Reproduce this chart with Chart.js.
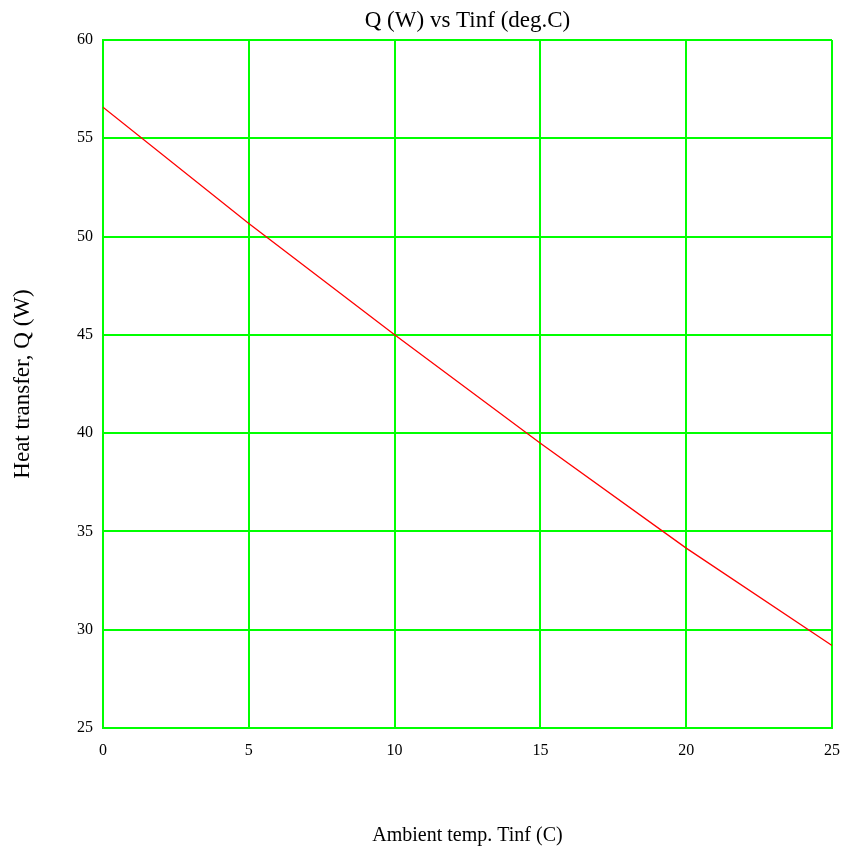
<!DOCTYPE html>
<html>
<head>
<meta charset="utf-8">
<script src="https://cdn.jsdelivr.net/npm/chart.js@4"></script>
<style>
    body { margin: 0; background: #ffffff; }
    #wrap { width: 847px; height: 850px; }
</style>
</head>
<body>
<div id="wrap"><canvas id="chart"></canvas></div>
<script>
// values
const tinf_values = [0, 5, 10, 15, 20, 25]
const heat_values = [56.58, 50.67, 45.0, 39.49, 34.15, 29.2]

const chart_title = 'Q (W) vs Tinf (deg.C)'
const x_title = 'Ambient temp. Tinf (C)'
const y_title = 'Heat transfer, Q (W)'

const serif = '"Liberation Serif", "Times New Roman", serif'
const green = '#00ff00'

let points = []
for (let i = 0; i < tinf_values.length; i ++) {
    points.push({x: tinf_values[i], y: heat_values[i]})
}

// title centred over the plot area, not over the whole canvas
const plot_title = {
    id: 'plot_title',
    afterDraw(chart) {
        const ctx = chart.ctx
        const area = chart.chartArea
        ctx.save()
        ctx.fillStyle = '#000000'
        ctx.font = '23px ' + serif
        ctx.textAlign = 'center'
        ctx.textBaseline = 'alphabetic'
        ctx.fillText(chart_title, (area.left + area.right) / 2, 27)
        ctx.restore()
    }
}

const graph = new Chart(document.getElementById('chart'), {
    type: 'line',
    data: {
        datasets: [{
            data: points,
            borderColor: '#ff0000',
            borderWidth: 1.3,
            pointRadius: 0,
            tension: 0,
            fill: false
        }]
    },
    options: {
        responsive: true,
        maintainAspectRatio: false,
        animation: false,
        layout: { padding: { top: 40, left: 0, right: 15, bottom: 0 } },
        plugins: {
            legend: { display: false },
            tooltip: { enabled: false },
            title: { display: false }
        },
        scales: {
            x: {
                type: 'linear',
                min: 0,
                max: 25,
                ticks: {
                    stepSize: 5,
                    color: '#000000',
                    padding: 13,
                    maxRotation: 0,
                    font: { family: serif, size: 16 }
                },
                grid: { color: green, lineWidth: 2, drawTicks: false },
                border: { color: green, width: 2 },
                title: {
                    display: true,
                    text: x_title,
                    color: '#000000',
                    font: { family: serif, size: 20 },
                    padding: { bottom: 2 }
                },
                afterFit: function (scale) {
                    scale.height = 122
                    scale.paddingLeft = 0
                    scale.paddingRight = 0
                }
            },
            y: {
                min: 25,
                max: 60,
                ticks: {
                    stepSize: 5,
                    color: '#000000',
                    padding: 10,
                    font: { family: serif, size: 16 }
                },
                grid: { color: green, lineWidth: 2, drawTicks: false },
                border: { color: green, width: 2 },
                title: {
                    display: true,
                    text: y_title,
                    color: '#000000',
                    font: { family: serif, size: 23 },
                    padding: { top: 9 }
                },
                afterFit: function (scale) { scale.width = 103 }
            }
        }
    },
    plugins: [plot_title]
})
</script>
</body>
</html>
